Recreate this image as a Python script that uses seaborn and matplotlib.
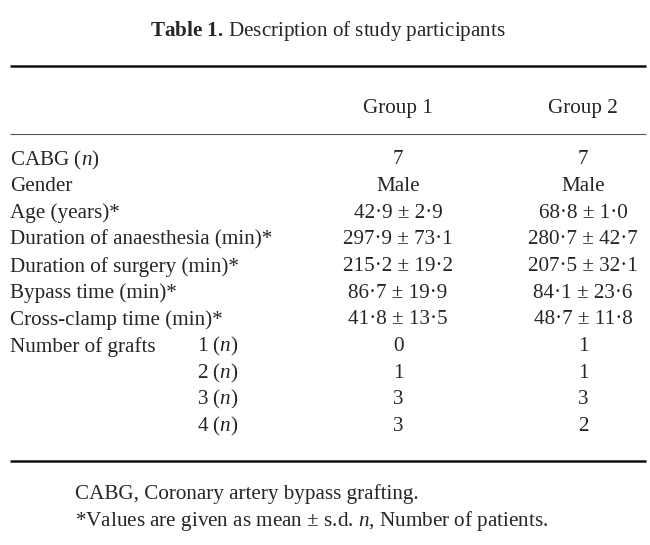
import matplotlib
matplotlib.use("Agg")
import matplotlib.pyplot as plt
import seaborn as sns

# 표 데이터
title = r"$\mathbf{Table\ 1.}\,$Description of study participants"
groups = ["Group 1", "Group 2"]
row_labels = ["CABG ($n$)", "Gender", "Age (years)*", "Duration of anaesthesia (min)*",
              "Duration of surgery (min)*", "Bypass time (min)*", "Cross-clamp time (min)*",
              "Number of grafts", "", "", ""]
sub_labels = ["", "", "", "", "", "", "", "1 ($n$)", "2 ($n$)", "3 ($n$)", "4 ($n$)"]
group1 = ["7", "Male", "42·9 ± 2·9", "297·9 ± 73·1", "215·2 ± 19·2", "86·7 ± 19·9",
          "41·8 ± 13·5", "0", "1", "3", "3"]
group2 = ["7", "Male", "68·8 ± 1·0", "280·7 ± 42·7", "207·5 ± 32·1", "84·1 ± 23·6",
          "48·7 ± 11·8", "1", "1", "3", "2"]
footnotes = ["CABG, Coronary artery bypass grafting.",
             "*Values are given as mean ± s.d. $n$, Number of patients."]

sns.set_theme(style="white")
plt.rcParams['font.family'] = ['Liberation Serif', 'DejaVu Serif']
plt.rcParams['mathtext.fontset'] = 'custom'
plt.rcParams['mathtext.rm'] = 'Liberation Serif'
plt.rcParams['mathtext.it'] = 'Liberation Serif:italic'
plt.rcParams['mathtext.bf'] = 'Liberation Serif:bold'

fig = plt.figure(figsize=(6.5, 5.45), dpi=100)
ax = fig.add_axes([0, 0, 1, 1])
ax.set_xlim(0, 650)
ax.set_ylim(545, 0)
ax.axis('off')

fs = 15.2
col_x = [398, 583]

ax.text(328, 31, title, ha='center', va='center', fontsize=fs)
ax.hlines(66, 10, 646, color='#111111', lw=1.8)
for x, g in zip(col_x, groups):
    ax.text(x, 108, g, ha='center', va='center', fontsize=fs)
ax.hlines(134, 10, 646, color='#555555', lw=0.8)

y0, dy = 160, 26.65
for i in range(len(row_labels)):
    y = y0 + i * dy
    ax.text(10, y, row_labels[i], ha='left', va='center', fontsize=fs)
    ax.text(197, y, sub_labels[i], ha='left', va='center', fontsize=fs)
    ax.text(col_x[0], y, group1[i], ha='center', va='center', fontsize=fs)
    ax.text(col_x[1], y, group2[i], ha='center', va='center', fontsize=fs)

ax.hlines(461, 10, 646, color='#111111', lw=1.8)
for i, f in enumerate(footnotes):
    ax.text(75, 494 + i * 27, f, ha='left', va='center', fontsize=fs)

fig.savefig("out.png", dpi=100, facecolor='white')
